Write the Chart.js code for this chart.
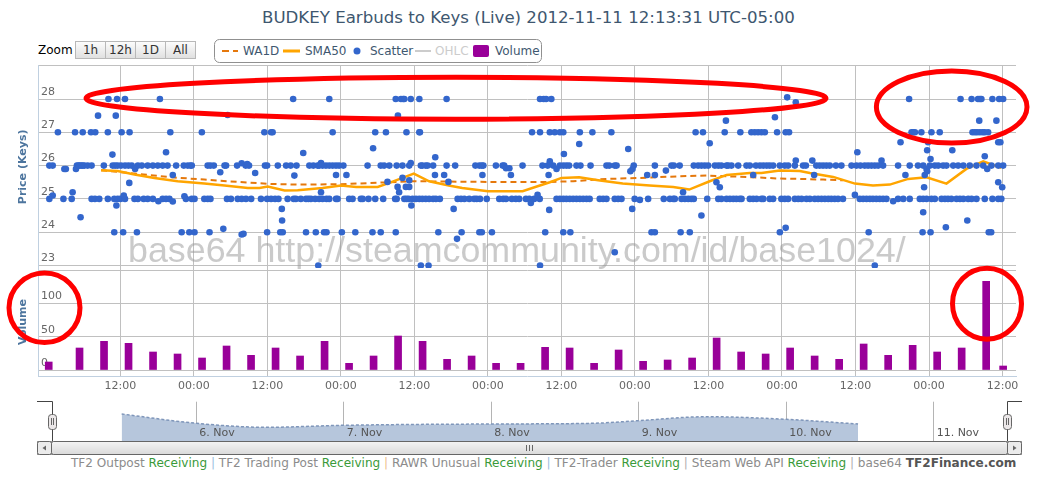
<!DOCTYPE html>
<html>
<head>
<meta charset="utf-8">
<title>BUDKEY Earbuds to Keys</title>
<script src="https://cdn.jsdelivr.net/npm/chart.js@4.4.1/dist/chart.umd.min.js"></script>
<style>
  body { margin: 0; background: #fff; font-family: "DejaVu Sans", Verdana, sans-serif; }
  #page { position: relative; width: 1039px; height: 486px; overflow: hidden; }
  .abs { position: absolute; white-space: nowrap; }
  #title { left: 262px; top: 8px; font-size: 16px; line-height: 20px; color: #3e576f; }
  #zoomLabel { left: 38px; top: 43px; font-size: 12px; line-height: 15px; color: #000; }
  .btn { top: 41px; height: 18px; width: 31px; box-sizing: border-box; border: 1px solid #b8b8b8;
         background: linear-gradient(#fcfcfc, #e0e0e0); font-size: 12px; line-height: 16px; text-align: center; color: #333; }
  .leg { top: 44px; font-size: 12px; line-height: 14px; color: #3e576f; }
  #main { left: 0; top: 50px; }
  #nav { left: 0; top: 398px; }
  #footer { left: 71px; top: 455px; font-size: 11px; line-height: 16px; color: #8c8c8c; }
  #footer .ok { color: #3a9a3a; }
  #footer .sb { color: #9dbfe2; }
  #footer .so { color: #eebf8c; }
  #footer .sg { color: #b0b0b0; }
  #footer b { color: #555; }
  svg { position: absolute; left: 0; top: 0; }
</style>
</head>
<body>
<div id="page">
  <div id="title" class="abs">BUDKEY Earbuds to Keys (Live) 2012-11-11 12:13:31 UTC-05:00</div>
  <div id="zoomLabel" class="abs">Zoom</div>
  <div class="abs btn" style="left:75px">1h</div>
  <div class="abs btn" style="left:105px">12h</div>
  <div class="abs btn" style="left:135px">1D</div>
  <div class="abs btn" style="left:165px">All</div>
  <div class="abs leg" style="left:243px">WA1D</div>
  <div class="abs leg" style="left:305px">SMA50</div>
  <div class="abs leg" style="left:370px">Scatter</div>
  <div class="abs leg" style="left:435px;color:#cccccc">OHLC</div>
  <div class="abs leg" style="left:495px">Volume</div>

  <canvas id="main" class="abs" width="1039" height="350"></canvas>
  <canvas id="nav" class="abs" width="1039" height="44"></canvas>

  <div id="footer" class="abs">TF2 Outpost <span class="ok">Receiving</span> <span class="sb">|</span> TF2 Trading Post <span class="ok">Receiving</span> <span class="so">|</span> RAWR Unusual <span class="ok">Receiving</span> <span class="sb">|</span> TF2-Trader <span class="ok">Receiving</span> <span class="sg">|</span> Steam Web API <span class="ok">Receiving</span> <span class="sg">|</span> base64 <b>TF2Finance.com</b></div>

  <svg width="1039" height="486">
    <defs>
      <linearGradient id="thumb" x1="0" y1="0" x2="0" y2="1">
        <stop offset="0" stop-color="#f4f4f4"/><stop offset="1" stop-color="#dadada"/>
      </linearGradient>
    </defs>
    <!-- legend -->
    <rect x="214.5" y="39.5" width="327" height="23" rx="5" fill="none" stroke="#909090"/>
    <line x1="222" y1="51" x2="238" y2="51" stroke="#e5780c" stroke-width="2" stroke-dasharray="7,4"/>
    <line x1="283" y1="51" x2="300" y2="51" stroke="#ffa500" stroke-width="3"/>
    <circle cx="357" cy="51" r="3.5" fill="#3366cc"/>
    <line x1="415" y1="51" x2="431" y2="51" stroke="#cccccc" stroke-width="2"/>
    <rect x="473" y="45" width="16" height="12" rx="2" fill="#990099"/>
    <!-- scrollbar -->
    <rect x="37.5" y="441.5" width="984" height="13" fill="#eeeeee" stroke="#999"/>
    <rect x="51.5" y="441.5" width="956" height="13" rx="2" fill="url(#thumb)" stroke="#666"/>
    <path d="M526.5 445v6M529.5 445v6M532.5 445v6" stroke="#666"/>
    <rect x="37.5" y="441.5" width="14" height="13" rx="2" fill="#ebebeb" stroke="#666"/>
    <path d="M46 445.5L42.5 448L46 450.5Z" fill="#666"/>
    <rect x="1007.5" y="441.5" width="14" height="13" rx="2" fill="#ebebeb" stroke="#666"/>
    <path d="M1013 445.5L1016.5 448L1013 450.5Z" fill="#666"/>
    <!-- navigator outline and handles -->
    <path d="M37 401.5H52.5V441M1007.5 441V401.5H1022" fill="none" stroke="#444"/>
    <rect x="48.5" y="414.5" width="8" height="15" rx="3" fill="#ebe7e8" stroke="#666"/>
    <path d="M51.5 418v7M53.5 418v7" stroke="#666"/>
    <rect x="1003.5" y="414.5" width="8" height="15" rx="3" fill="#ebe7e8" stroke="#666"/>
    <path d="M1006.5 418v7M1008.5 418v7" stroke="#666"/>
    <!-- red marks -->
    <g fill="none" stroke="#ff0000" stroke-width="5">
      <ellipse cx="456" cy="98.2" rx="370" ry="21"/>
      <ellipse cx="951.7" cy="107" rx="75.3" ry="36"/>
      <ellipse cx="44.5" cy="307.8" rx="35.5" ry="34.8"/>
      <ellipse cx="987" cy="303.7" rx="34.5" ry="35.5"/>
    </g>
  </svg>
</div>

<script>
// x values are hours counted from 5 Nov 2012 12:00 (UTC-05:00)
const xMin = -13.45, xMax = 146.2;
const timeTicks = [0, 12, 24, 36, 48, 60, 72, 84, 96, 108, 120, 132, 144];
const priceTicks = [23, 24, 25, 26, 27, 28, 29];
const volumeTicks = [0, 50, 100, 150];

// scatter trades sitting on whole-key prices (hours only)
const scatter28 = [-1.95, -0.55, 0.75, 6.45, 28.2, 34.1, 44.95, 45.8, 46.15, 46.35, 47.4, 48.8, 53.25, 68.5, 69.1, 69.5, 70.35,
  128.75, 137.15, 138.95, 140.0, 140.3, 140.55, 142.35, 143.45, 144.1];
const scatter27 = [-10.2, -7.4, -6.15, -4.8, -4.1, -2.05, 0.2, 1.5, 8.15, 13.3, 23.5, 24.6, 24.85, 34.65, 41.6, 43.35, 46.7, 48.8,
  48.9, 67.2, 68.5, 70.1, 70.9, 71.75, 72.3, 75.0, 77.05, 80.15, 93.9, 95.1, 98.65, 101.2, 103.0, 103.55, 104.1, 104.65, 105.2,
  107.2, 108.6, 109.15, 129.15, 129.4, 129.7, 130.75, 132.4, 133.75, 139.1, 139.5, 139.85, 140.3, 140.75, 141.1, 141.65];
const scatter26 = [-11.6, -11.05, -7.1, -6.85, -6.65, -6.4, -6.15, -5.9, -5.35, -4.7, -2.7, -1.25, -0.85, -0.45, 0.1, 0.75, 1.3,
  1.85, 2.85, 3.5, 4.45, 5.3, 6.1, 6.9, 7.7, 9.1, 10.35, 11.0, 11.45, 11.65, 14.25, 14.7, 15.25, 17.0, 17.25, 19.05, 20.45, 21.0,
  23.6, 23.95, 25.7, 27.05, 27.8, 28.75, 30.85, 31.5, 32.2, 32.45, 33.0, 33.55, 34.1, 34.65, 35.2, 35.7, 36.4, 40.35, 42.5, 43.05,
  43.9, 45.1, 46.05, 47.15, 49.05, 49.3, 49.85, 50.15, 51.05, 53.25, 54.65, 57.95, 58.6, 59.0, 59.25, 61.3, 62.4, 62.65, 65.65,
  68.9, 69.75, 70.65, 71.75, 72.3, 72.8, 73.25, 74.45, 75.1, 76.75, 79.35, 79.8, 80.7, 81.0, 83.8, 87.25, 89.95, 90.35, 91.3,
  93.6, 94.3, 94.85, 95.4, 95.95, 97.05, 97.6, 98.1, 98.95, 99.2, 99.75, 100.85, 102.2, 102.75, 103.75, 104.4, 104.95, 105.5,
  106.0, 106.55, 107.65, 108.45, 109.0, 110.1, 111.45, 111.9, 113.6, 114.15, 114.7, 115.25, 115.8, 116.8, 117.7, 119.35, 120.15,
  120.8, 121.5, 122.05, 122.6, 123.15, 123.7, 124.5, 126.95, 128.85, 130.2, 131.05, 132.15, 132.95, 133.5, 134.3, 134.85, 135.95,
  136.75, 137.6, 138.65, 139.75, 140.85, 142.2, 143.3, 144.1];
const scatter25 = [-11.6, -9.3, -7.95, -4.7, -4.15, -3.45, -2.05, -1.0, -0.45, 0, 0.75, 2.3, 2.85, 3.8, 4.45, 5.3, 6.9, 7.45, 8.0,
  10.7, 11.65, 12.1, 13.7, 14.25, 14.7, 17.4, 18.05, 19.15, 19.8, 20.5, 21.35, 22.95, 23.95, 24.6, 25.25, 25.8, 27.3, 28.3, 28.65,
  29.45, 30.3, 30.7, 31.1, 31.8, 32.45, 33.0, 33.65, 34.1, 35.2, 35.45, 37.35, 37.9, 39.25, 39.55, 40.5, 41.6, 42.9, 44.85, 45.1,
  46.35, 46.7, 47.05, 47.7, 48.25, 48.8, 49.3, 49.85, 50.4, 51.05, 51.5, 52.15, 55.05, 55.6, 56.15, 56.95, 57.75, 58.15, 58.7,
  59.8, 61.85, 62.5, 62.95, 63.9, 64.55, 65.1, 66.2, 66.75, 67.55, 68.45, 71.2, 71.75, 72.3, 72.8, 73.35, 73.9, 74.45, 75.0, 75.55,
  76.1, 76.6, 78.25, 78.8, 79.35, 80.7, 81.25, 81.8, 83.95, 86.15, 88.7, 89.7, 90.25, 90.5, 91.6, 92.15, 92.7, 93.2, 93.6, 95.8,
  97.6, 98.1, 98.95, 99.5, 100.05, 100.55, 101.1, 101.4, 102.75, 103.3, 103.85, 104.65, 104.95, 106.0, 106.55, 107.9, 108.45,
  109.0, 110.1, 110.65, 111.2, 112.0, 112.55, 113.35, 113.9, 114.45, 115.0, 115.55, 116.05, 116.6, 117.15, 117.95, 120.7, 121.25,
  121.8, 122.35, 122.85, 123.4, 123.95, 124.5, 125.05, 126.95, 127.8, 128.85, 130.5, 131.05, 131.6, 132.4, 132.95, 134.05, 134.6,
  135.1, 135.65, 136.5, 137.05, 137.6, 138.4, 138.95, 139.75, 141.1, 142.35, 143.3, 143.8];
const scatter24 = [-1.0, 0.45, 2.7, 10.0, 11.25, 12.1, 14.55, 23.95, 26.1, 26.5, 30.3, 31.9, 33.25, 33.65, 36.15, 38.35, 41.15,
  42.5, 44.95, 51.9, 55.7, 58.6, 59.0, 60.65, 69.35, 72.3, 73.45, 86.7, 87.25, 91.45, 92.95, 107.65, 122.15, 130.95, 132.25,
  141.75, 142.15];
const scatter23 = [32.3, 49.05, 50.3, 68.5, 123.15];

// scatter trades at other prices: [hour, price]
const scatterOther = [
  [-9.15, 25.9], [-8.9, 25.9], [-7.25, 25.9], [2.4, 25.9], [-11.05, 25.1], [0.55, 25.1], [-7.8, 25.2], [10.45, 25.08],
  [6.2, 24.93], [8.55, 24.92], [-0.65, 24.8], [26.35, 24.7], [-6.5, 24.45], [26.4, 24.35], [16.8, 24.1], [19.8, 23.93],
  [20.1, 23.95], [8.55, 25.72], [28.4, 25.7], [1.45, 25.48], [16.3, 25.8], [22.0, 25.78], [7.45, 26.4], [-1.3, 26.33],
  [19.8, 26.07], [20.7, 26.05], [-3.65, 27.5], [-0.75, 27.5], [17.5, 27.52], [45.3, 27.5],
  [29.85, 26.38], [41.25, 26.52], [51.4, 26.25], [32.75, 26.08], [47.4, 26.08], [62.95, 25.92], [63.5, 25.92], [35.2, 25.72],
  [36.9, 25.72], [51.35, 25.72], [52.85, 25.72], [59.1, 25.72], [63.75, 25.72], [69.9, 25.72], [46.05, 25.63], [47.15, 25.56],
  [43.6, 25.51], [53.55, 25.51], [45.25, 25.36], [46.6, 25.36], [47.15, 25.36], [32.75, 25.2], [45.5, 25.2], [68.1, 25.12],
  [67.0, 24.88], [47.5, 24.8], [54.4, 24.7], [70.0, 24.67], [54.95, 23.8],
  [72.4, 26.35], [74.9, 26.65], [82.9, 26.5], [96.2, 26.67], [70.1, 26.13], [71.2, 25.9], [83.6, 25.9], [83.25, 25.83],
  [86.0, 25.72], [87.25, 25.72], [103.3, 25.72], [89.05, 25.85], [97.3, 25.5], [97.85, 25.35], [91.85, 25.2], [84.8, 24.97],
  [83.55, 24.7], [94.85, 24.5], [108.6, 24.13], [80.7, 23.4], [98.85, 27.35], [106.85, 27.45], [108.85, 28.05], [110.25, 27.9],
  [110.25, 26.15], [112.95, 26.15], [124.25, 26.15], [120.3, 26.4], [131.7, 26.46], [135.8, 26.46], [132.25, 26.2],
  [141.1, 26.28], [127.35, 26.7], [131.85, 26.7], [143.3, 26.7], [143.65, 26.7], [141.5, 25.9], [131.6, 25.9], [131.7, 25.83],
  [113.25, 25.72], [128.15, 25.72], [131.3, 25.72], [143.3, 25.5], [131.2, 25.35], [143.95, 25.35], [119.9, 25.12],
  [126.15, 24.93], [131.05, 24.6], [138.25, 24.35], [134.75, 24.15], [140.2, 27.35], [143.0, 27.35]
];

const sma50Hours = [-3.15, -0.45, 2.3, 5.55, 9.35, 13.7, 17.0, 20.8, 22.7, 24.05, 26.8, 28.95, 33.0, 36.0, 38.5, 42.0, 43.9,
  47.9, 50.4, 53.6, 55.8, 60.0, 65.65, 68.1, 70.1, 72.0, 74.9, 78.0, 82.0, 86.4, 90.25, 92.85, 96.2, 98.95, 102.75, 104.65,
  107.65, 110.9, 112.55, 116.35, 119.9, 122.85, 125.6, 128.6, 131.6, 134.85, 138.1, 140.85, 143.8];
const sma50Values = [25.86, 25.84, 25.73, 25.63, 25.53, 25.46, 25.4, 25.33, 25.33, 25.37, 25.25, 25.26, 25.33, 25.4, 25.36,
  25.36, 25.48, 25.76, 25.53, 25.4, 25.33, 25.23, 25.23, 25.38, 25.5, 25.63, 25.65, 25.56, 25.46, 25.4, 25.36, 25.28, 25.53,
  25.72, 25.78, 25.78, 25.85, 25.84, 25.78, 25.66, 25.46, 25.4, 25.43, 25.6, 25.65, 25.46, 25.9, 26.13, 25.93];

const wa1dHours = [-3.15, 2.85, 8.3, 13.7, 19.15, 24.6, 28.95, 36.0, 47.9, 60.2, 70.0, 73.9, 79.35, 84.8, 91.3, 95.8, 98.95,
  103.3, 107.65, 110.9, 114.7, 118.0];
const wa1dValues = [25.86, 25.75, 25.65, 25.58, 25.51, 25.45, 25.43, 25.44, 25.53, 25.51, 25.51, 25.53, 25.6, 25.63, 25.68,
  25.7, 25.68, 25.65, 25.61, 25.6, 25.58, 25.56];

const volumeHours = [-11.7, -6.67, -2.67, 1.33, 5.33, 9.33, 13.33, 17.33, 21.33, 25.33, 29.33, 33.33, 37.33, 41.33, 45.33,
  49.33, 53.33, 57.33, 61.33, 65.33, 69.33, 73.33, 77.33, 81.33, 85.33, 89.33, 93.33, 97.33, 101.33, 105.33, 109.33, 113.33,
  117.33, 121.33, 125.33, 129.33, 133.33, 137.33, 141.33, 144.1];
const volumeValues = [12, 33, 43, 40, 27, 24, 18, 36, 22, 33, 21, 43, 10, 21, 51, 43, 16, 21, 10, 10, 34, 33, 10, 30, 13, 15,
  18, 48, 27, 24, 33, 21, 16, 39, 22, 37, 27, 33, 133, 6];

// navigator
const navMin = -11.65, navMax = 144.1;
const navHours = [-0.15, 12, 23.4, 36, 60, 76.5, 83.9, 95, 108, 119.7];
const navValues = [27, 17.7, 13.7, 15.7, 17, 17.7, 20.3, 24.3, 21.7, 17];
const navDayHours = [12, 36, 60, 84, 108, 132];
const navDayLabels = ['6. Nov', '7. Nov', '8. Nov', '9. Nov', '10. Nov', '11. Nov'];

const watermarkText = 'base64 http://steamcommunity.com/id/base1024/';

const zip = (xs, ys) => xs.map((x, i) => ({ x: x, y: ys[i] }));
const level = (hours, price) => hours.map(h => ({ x: h, y: price }));

const scatterData = [].concat(
  level(scatter23, 23), level(scatter24, 24), level(scatter25, 25),
  level(scatter26, 26), level(scatter27, 27), level(scatter28, 28),
  scatterOther.map(p => ({ x: p[0], y: p[1] }))
);

function fitWidth(el, target) {
  const w = el.getBoundingClientRect().width;
  const size = parseFloat(getComputedStyle(el).fontSize);
  el.style.fontSize = (size * target / w) + 'px';
}
fitWidth(document.getElementById('title'), 533);
fitWidth(document.getElementById('footer'), 946);

const watermark = {
  id: 'watermark',
  beforeDatasetsDraw(chart) {
    const ctx = chart.ctx;
    ctx.save();
    ctx.font = '36px "Liberation Sans"';
    const w = ctx.measureText(watermarkText).width;
    ctx.font = (36 * 778 / w) + 'px "Liberation Sans"';
    ctx.fillStyle = 'rgba(150,150,150,0.5)';
    ctx.textBaseline = 'alphabetic';
    ctx.fillText(watermarkText, 128, 212);
    ctx.restore();
  }
};

const labelFont = { family: 'DejaVu Sans', size: 11 };
const titleFont = { family: 'DejaVu Sans', size: 11, weight: 'bold' };

new Chart(document.getElementById('main'), {
  type: 'scatter',
  data: {
    datasets: [
      { type: 'scatter', label: 'Scatter', data: scatterData, yAxisID: 'yPrice',
        backgroundColor: '#3366cc', borderWidth: 0, pointRadius: 3.3, order: 0 },
      { type: 'line', label: 'SMA50', data: zip(sma50Hours, sma50Values), yAxisID: 'yPrice',
        borderColor: '#ffa500', borderWidth: 2.5, pointRadius: 0, fill: false, tension: 0, order: 1 },
      { type: 'line', label: 'WA1D', data: zip(wa1dHours, wa1dValues), yAxisID: 'yPrice',
        borderColor: '#e5780c', borderWidth: 2, borderDash: [6, 4], pointRadius: 0, fill: false, order: 2 },
      { type: 'bar', label: 'Volume', data: zip(volumeHours, volumeValues), yAxisID: 'yVol',
        backgroundColor: '#990099', barThickness: 7, order: 3 }
    ]
  },
  options: {
    responsive: false,
    animation: false,
    events: [],
    layout: { padding: { top: 15.7, right: 23, bottom: 0, left: 0 } },
    plugins: { legend: { display: false }, tooltip: { enabled: false } },
    scales: {
      x: {
        type: 'linear', min: xMin, max: xMax, offset: false,
        afterBuildTicks: s => { s.ticks = timeTicks.map(v => ({ value: v })); },
        afterFit: s => { s.height = 24; },
        grid: { color: '#c0c0c0', drawTicks: false, offset: false },
        border: { color: '#c0d0e0' },
        ticks: { autoSkip: false, maxRotation: 0, padding: 4, color: '#666', font: labelFont,
          callback: v => (v % 24 === 0 ? '12:00' : '00:00') }
      },
      yVol: {
        type: 'linear', position: 'left', stack: 'panes', stackWeight: 108, min: -9, max: 153,
        afterBuildTicks: s => { s.ticks = volumeTicks.map(v => ({ value: v })); },
        afterFit: s => { s.width = 38; },
        grid: { color: '#c0c0c0', drawTicks: false },
        border: { color: '#c0d0e0' },
        ticks: { mirror: true, padding: 3, labelOffset: -7, color: '#666', font: labelFont,
          callback: v => (v === 150 ? '' : v) },
        title: { display: true, text: 'Volume', color: '#4d759e', font: titleFont, padding: { top: 17, bottom: 0 } }
      },
      yPrice: {
        type: 'linear', position: 'left', stack: 'panes', stackWeight: 202.3, min: 22.925, max: 29,
        afterBuildTicks: s => { s.ticks = priceTicks.map(v => ({ value: v })); },
        afterFit: s => { s.width = 38; },
        grid: { color: '#c0c0c0', drawTicks: false },
        border: { color: '#c0d0e0' },
        ticks: { mirror: true, padding: 3, labelOffset: -7, color: '#666', font: labelFont,
          callback: v => (v === 29 ? '' : v) },
        title: { display: true, text: 'Price (Keys)', color: '#4d759e', font: titleFont, padding: { top: 17, bottom: 0 } }
      }
    }
  },
  plugins: [watermark]
});

const navLabels = {
  id: 'navLabels',
  afterDatasetsDraw(chart) {
    const { ctx, chartArea } = chart;
    const x = chart.scales.x;
    ctx.save();
    ctx.font = '11px "DejaVu Sans"';
    ctx.fillStyle = '#555';
    ctx.textBaseline = 'middle';
    navDayHours.forEach((h, i) => ctx.fillText(navDayLabels[i], x.getPixelForValue(h) + 3, chartArea.bottom - 8));
    ctx.restore();
  }
};

new Chart(document.getElementById('nav'), {
  type: 'line',
  data: {
    datasets: [{
      data: zip(navHours, navValues), fill: 'origin', backgroundColor: '#b6c6dc',
      borderColor: '#7f96ba', borderWidth: 1.5, borderDash: [3, 2], pointRadius: 0,
      cubicInterpolationMode: 'monotone'
    }]
  },
  options: {
    responsive: false,
    animation: false,
    events: [],
    layout: { padding: { left: 51, right: 31, top: 3.7, bottom: 1 } },
    plugins: { legend: { display: false }, tooltip: { enabled: false } },
    scales: {
      x: {
        type: 'linear', min: navMin, max: navMax,
        afterBuildTicks: s => { s.ticks = navDayHours.map(v => ({ value: v })); },
        afterFit: s => { s.height = 0; },
        grid: { color: '#b4b4b4', drawTicks: false },
        border: { display: false },
        ticks: { display: false }
      },
      y: { display: false, min: 0, max: 39.3 }
    }
  },
  plugins: [navLabels]
});
</script>
</body>
</html>
